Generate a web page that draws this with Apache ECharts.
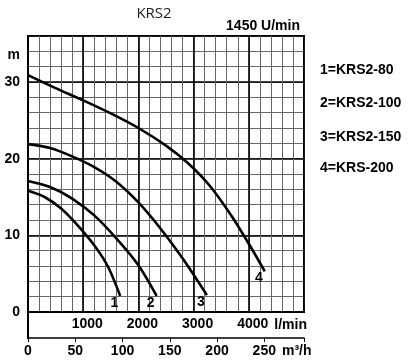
<!DOCTYPE html>
<html>
<head>
<meta charset="utf-8">
<script src="https://cdn.jsdelivr.net/npm/echarts@6/dist/echarts.min.js"></script>
<style>html,body{margin:0;padding:0;background:#fff}#c{width:415px;height:363px}</style>
</head>
<body>
<div id="c"></div>
<script>
// ---- data (flow in l/min, head in m) ----
var curveNames = ['1', '2', '3', '4'];
var legendTexts = ['1=KRS2-80', '2=KRS2-100', '3=KRS2-150', '4=KRS-200'];
var flow1 = [0, 300, 600, 900, 1200, 1450, 1670];
var head1 = [15.8, 15.0, 13.5, 11.3, 8.7, 5.9, 2.1];
var flow2 = [0, 400, 800, 1200, 1600, 2000, 2330];
var head2 = [17.1, 16.3, 14.8, 12.6, 9.6, 6.1, 2.1];
var flow3 = [0, 400, 800, 1200, 1600, 2000, 2400, 2800, 3240];
var head3 = [21.9, 21.4, 20.3, 18.9, 17.0, 14.3, 10.9, 7.0, 2.2];
var flow4 = [0, 500, 1000, 1500, 2000, 2500, 2900, 3300, 3700, 4000, 4290];
var head4 = [30.9, 29.2, 27.6, 25.9, 24.0, 21.7, 19.4, 16.4, 12.4, 8.9, 5.3];
var lminTicks = [1000, 2000, 3000, 4000];
var m3hTicks = [0, 50, 100, 150, 200, 250];
var headTicks = [0, 10, 20, 30];
var title = 'KRS2';
var speedText = '1450 U/min';

var flows = [flow1, flow2, flow3, flow4];
var heads = [head1, head2, head3, head4];
var F = '"Liberation Sans", Arial, sans-serif';

var chart = echarts.init(document.getElementById('c'), null, {renderer: 'canvas'});

var series = curveNames.map(function (nm, i) {
  var d = flows[i].map(function (x, j) { return [x, heads[i][j]]; });
  return {
    type: 'line', name: nm, xAxisIndex: 0, yAxisIndex: 0,
    data: d, smooth: 0.3, showSymbol: false, symbol: 'none',
    lineStyle: {color: '#000', width: 2.6},
    itemStyle: {color: '#000'},
    endLabel: {show: true, formatter: nm, distance: 0, offset: [-2, 0],
               align: 'right', verticalAlign: 'top',
               color: '#000', fontFamily: F, fontWeight: 'bold', fontSize: 14},
    silent: true, animation: false
  };
});

var graphics = legendTexts.map(function (t, i) {
  return {type: 'text', left: 320, top: [63, 96, 130, 161][i],
          style: {text: t, fill: '#000', font: 'bold 14px ' + F}};
});

chart.setOption({
  animation: false,
  title: [
    {text: title, left: 154, top: 6, textAlign: 'center', padding: 0,
     textStyle: {fontFamily: '"Open Sans", Lato, sans-serif', fontWeight: 'normal', fontSize: 15, color: '#222'}},
    {text: speedText, right: 115, top: 19, padding: 0,
     textStyle: {fontFamily: F, fontWeight: 'bold', fontSize: 14, color: '#000'}}
  ],
  grid: [
    {left: 28, top: 36, width: 276, height: 276, show: true, borderColor: '#000', borderWidth: 2, containLabel: false},
    {left: 28, top: 312, width: 276, height: 26, show: false, containLabel: false}
  ],
  xAxis: [
    {type: 'value', gridIndex: 0, min: 0, max: 5000, interval: 200,
     axisLine: {show: true, lineStyle: {color: '#000', width: 2}}, axisTick: {show: false},
     axisLabel: {show: false},
     splitLine: {show: true, lineStyle: {color: '#666', width: 1}}},
    {type: 'value', gridIndex: 0, min: 0, max: 5000, interval: 1000, position: 'bottom',
     axisLine: {show: false}, axisTick: {show: false},
     axisLabel: {show: true, margin: 5, padding: [0, 0, 0, 8], color: '#000', fontFamily: F, fontWeight: 'bold', fontSize: 14,
       formatter: function (v) { return lminTicks.indexOf(v) >= 0 ? String(v) : ''; }},
     name: 'l/min', nameLocation: 'end', nameGap: -31,
     nameTextStyle: {color: '#000', fontFamily: F, fontWeight: 'bold', fontSize: 14, verticalAlign: 'top', padding: [6, 0, 0, 0]},
     splitLine: {show: true, lineStyle: {color: '#000', width: 1.6}}},
    {type: 'value', gridIndex: 1, min: 0, max: 292, interval: 50, position: 'bottom',
     axisLine: {show: true, lineStyle: {color: '#000', width: 1.6}},
     axisTick: {show: true, length: 4, lineStyle: {color: '#000', width: 1}},
     axisLabel: {show: true, margin: 6, color: '#000', fontFamily: F, fontWeight: 'bold', fontSize: 14,
       formatter: function (v) { return m3hTicks.indexOf(v) >= 0 ? String(v) : ''; }},
     name: 'm³/h', nameLocation: 'end', nameGap: -22,
     nameTextStyle: {color: '#000', fontFamily: F, fontWeight: 'bold', fontSize: 14, verticalAlign: 'top', padding: [6, 0, 0, 0]},
     splitLine: {show: false}}
  ],
  yAxis: [
    {type: 'value', gridIndex: 0, min: 0, max: 36, interval: 2,
     axisLine: {show: true, lineStyle: {color: '#000', width: 2}}, axisTick: {show: false},
     axisLabel: {show: true, margin: 8, color: '#000', fontFamily: F, fontWeight: 'bold', fontSize: 14,
       rich: {m: {fontFamily: F, fontWeight: 'bold', fontSize: 14, color: '#000', padding: [7, 0, 0, 0]}},
       formatter: function (v) { if (v === 34) return '{m|m}'; return headTicks.indexOf(v) >= 0 ? String(v) : ''; }},
     splitLine: {show: true, lineStyle: {color: '#666', width: 1}}},
    {type: 'value', gridIndex: 0, min: 0, max: 36, interval: 10, position: 'left',
     axisLine: {show: false}, axisTick: {show: false}, axisLabel: {show: false},
     splitLine: {show: true, lineStyle: {color: '#000', width: 1.6}}},
    {type: 'value', gridIndex: 1, min: 0, max: 1,
     axisLine: {show: true, lineStyle: {color: '#000', width: 2}}, axisTick: {show: false}, axisLabel: {show: false},
     splitLine: {show: false}}
  ],
  graphic: graphics,
  series: series
});
</script>
</body>
</html>
